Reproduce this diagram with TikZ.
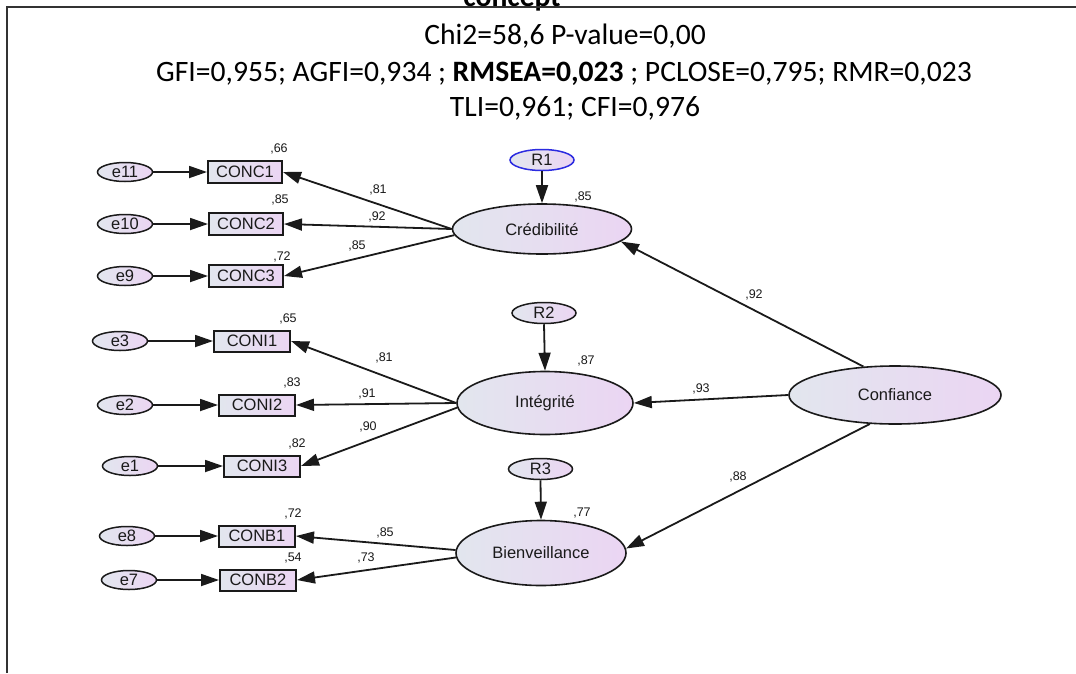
\documentclass[tikz,border=0pt]{standalone}
\usepackage{fontspec}
\setmainfont{Liberation Sans}
\newfontfamily\hdrfont{Carlito}
\usetikzlibrary{shapes.geometric,arrows.meta}
\definecolor{gl}{HTML}{E2E6EE}
\definecolor{gr}{HTML}{EBD5F3}
\definecolor{ink}{HTML}{1A1A1A}
\definecolor{rblue}{HTML}{2B2BE0}
\begin{document}
\begin{tikzpicture}[x=1pt,y=-1pt,
  txt/.style={font=\fontsize{16.5}{18}\selectfont, text=ink},
  err/.style={ellipse, draw=ink, line width=1.5pt, left color=gl, right color=gr,
    minimum width=55pt, minimum height=19pt, inner sep=0pt, txt},
  res/.style={err, minimum width=64pt, minimum height=21pt},
  obs/.style={rectangle, draw=ink, line width=2pt, left color=gl, right color=gr,
    minimum width=76pt, minimum height=21pt, inner sep=0pt, txt},
  lat/.style={ellipse, draw=ink, line width=1.6pt, left color=gl, right color=gr,
    inner sep=0pt, txt},
  est/.style={font=\fontsize{12.5}{13}\selectfont, text=ink, inner sep=0pt},
  arr/.style={-{Triangle[length=18pt,width=12pt]}, line width=1.8pt, draw=ink},
  hdr/.style={anchor=base, font=\hdrfont\fontsize{29.6}{34}\selectfont, text=black}
]
\useasboundingbox (0,0) rectangle (1076,673);
\fill[white] (0,0) rectangle (1076,673);

% header
\node[hdr, font=\hdrfont\bfseries\fontsize{29.6}{34}\selectfont] (ttl) at (512,6) {concept};
\draw[line width=2pt, draw=black!80] (7,673) -- (7,7) -- (1076,7);
\node[hdr] (h1) at (565,44) {Chi2=58,6 P-value=0,00};
\node[hdr] (h2) at (564,81) {GFI=0,955; AGFI=0,934 ; \textbf{RMSEA=0,023} ; PCLOSE=0,795; RMR=0,023};
\node[hdr] (h3) at (575,116) {TLI=0,961; CFI=0,976};

% latent variables
\node[lat, minimum width=179pt, minimum height=50pt] (cred) at (542,229) {Crédibilité};
\node[lat, minimum width=176pt, minimum height=63pt] (integ) at (545,403) {Intégrité};
\node[lat, minimum width=170pt, minimum height=65pt] (bien) at (541,553) {Bienveillance};
\node[lat, minimum width=212pt, minimum height=58pt] (conf) at (895,395) {Confiance};

% residuals
\node[res, draw=rblue] (r1) at (542,160) {R1};
\node[res] (r2) at (544,313) {R2};
\node[res] (r3) at (540.5,469) {R3};

% observed
\node[obs, minimum width=74pt, minimum height=22pt] (conc1) at (245,172) {CONC1};
\node[obs, minimum width=74pt, minimum height=22pt] (conc2) at (246,224) {CONC2};
\node[obs, minimum width=74pt, minimum height=22pt] (conc3) at (246,276) {CONC3};
\node[obs] (coni1) at (252,341) {CONI1};
\node[obs] (coni2) at (257,405) {CONI2};
\node[obs] (coni3) at (262,466) {CONI3};
\node[obs] (conb1) at (257,536) {CONB1};
\node[obs] (conb2) at (258,580) {CONB2};

% errors
\node[err] (e11) at (125,172) {e11};
\node[err] (e10) at (125,224) {e10};
\node[err] (e9) at (125,276) {e9};
\node[err] (e3) at (120,341) {e3};
\node[err] (e2) at (125,405) {e2};
\node[err] (e1) at (130,466) {e1};
\node[err] (e8) at (127,536) {e8};
\node[err] (e7) at (129,580) {e7};

% error arrows
\foreach \e/\b in {e11/conc1,e10/conc2,e9/conc3,e3/coni1,e2/coni2,e1/coni3,e8/conb1,e7/conb2}
  \draw[arr] (\e.east) -- (\b.west);

% loadings
\draw[arr] (cred.west) -- (conc1.east);
\draw[arr] (cred.west) -- (conc2.east);
\draw[arr] (cred.184) -- (conc3.east);
\draw[arr] (integ.west) -- (coni1.east);
\draw[arr] (integ.west) -- (coni2.east);
\draw[arr] (integ.183) -- (coni3.east);
\draw[arr] (bien.178) -- (conb1.east);
\draw[arr] (bien.183) -- (conb2.east);

% residual arrows
\draw[arr] (r1.south) -- (cred.north);
\draw[arr] (r2.south) -- (integ.north);
\draw[arr] (r3.south) -- (bien.north);

% structural
\draw[arr] (conf.138) -- (cred.-9);
\draw[arr] (conf.west) -- (integ.east);
\draw[arr] (conf.229) -- (bien.3);

% estimates
\node[est] (l1) at (279,149) {,66};
\node[est] (l2) at (280,200) {,85};
\node[est] (l3) at (282,257) {,72};
\node[est] (l4) at (378,190) {,81};
\node[est] (l5) at (377,217) {,92};
\node[est] (l6) at (357,246) {,85};
\node[est] (l7) at (583,197) {,85};
\node[est] (l8) at (288,319) {,65};
\node[est] (l9) at (292,383) {,83};
\node[est] (l10) at (297,444) {,82};
\node[est] (l11) at (384,358) {,81};
\node[est] (l12) at (367,394) {,91};
\node[est] (l13) at (368,427) {,90};
\node[est] (l14) at (586,361) {,87};
\node[est] (l15) at (293,514) {,72};
\node[est] (l16) at (293,558) {,54};
\node[est] (l17) at (385,533) {,85};
\node[est] (l18) at (366,558) {,73};
\node[est] (l19) at (582,513) {,77};
\node[est] (l20) at (754,295) {,92};
\node[est] (l21) at (701,389) {,93};
\node[est] (l22) at (738,477) {,88};
\end{tikzpicture}
\end{document}
